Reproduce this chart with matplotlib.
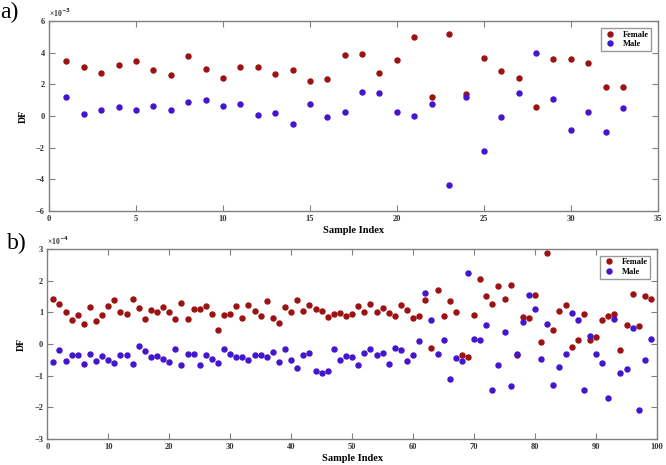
import numpy as np
import matplotlib.pyplot as plt

# Panel a) values in units of 1e-3
idx_a = np.arange(1, 34)
female_a = [3.51, 3.09, 2.75, 3.26, 3.47, 2.94, 2.58, 3.83, 2.96, 2.43, 3.11, 3.13, 2.64, 2.90, 2.20, 2.33,
            3.85, 3.94, 2.72, 3.54, 5.01, 1.22, 5.22, 1.37, 3.68, 2.84, 2.40, 0.59, 3.62, 3.62, 3.33, 1.85, 1.81]
male_a = [1.23, 0.11, 0.36, 0.55, 0.36, 0.61, 0.40, 0.87, 1.01, 0.61, 0.78, 0.06, 0.21, -0.49, 0.74, -0.08,
          0.23, 1.52, 1.49, 0.23, 0.02, 0.74, -4.36, 1.18, -2.21, -0.06, 1.49, 4.00, 1.05, -0.86, 0.27, -0.99, 0.51]

# Panel b) values in units of 1e-4
idx_b = np.arange(1, 100)
female_b = [1.42, 1.28, 1.02, 0.75, 0.93, 0.63, 1.18, 0.73, 0.92, 1.19,
            1.38, 1.02, 0.96, 1.42, 1.14, 0.79, 1.07, 1.00, 1.17, 1.01,
            0.79, 1.29, 0.79, 1.12, 1.10, 1.21, 0.96, 0.45, 0.92, 0.94,
            1.20, 0.81, 1.23, 1.05, 0.88, 1.37, 0.84, 0.66, 1.16, 1.00,
            1.38, 1.04, 1.24, 1.11, 1.04, 0.85, 0.95, 0.99, 0.88, 0.96,
            1.20, 1.02, 1.27, 1.01, 1.14, 0.98, 0.88, 1.23, 1.07, 0.82,
            0.89, 1.39, -0.11, 1.70, 0.90, 1.36, 1.00, -0.34, -0.40, 0.92,
            2.05, 1.53, 1.28, 1.85, 1.42, 1.88, -0.35, 0.86, 0.81, 1.56,
            0.06, 2.88, 0.46, 1.05, 1.23, -0.09, 0.12, 0.94, 0.13, 0.23,
            0.76, 0.90, 0.94, -0.18, 0.61, 1.58, 0.56, 1.53, 1.42]
male_b = [-0.57, -0.18, -0.54, -0.33, -0.36, -0.64, -0.31, -0.54, -0.38, -0.50,
          -0.61, -0.35, -0.36, -0.64, -0.06, -0.21, -0.42, -0.38, -0.47, -0.57,
          -0.17, -0.66, -0.32, -0.30, -0.65, -0.36, -0.46, -0.60, -0.16, -0.30,
          -0.42, -0.41, -0.51, -0.35, -0.36, -0.40, -0.25, -0.57, -0.14, -0.49,
          -0.75, -0.35, -0.28, -0.86, -0.90, -0.86, -0.15, -0.51, -0.39, -0.41,
          -0.66, -0.28, -0.14, -0.36, -0.27, -0.63, -0.13, -0.19, -0.54, -0.36,
          0.11, 1.62, 0.77, -0.32, 0.14, -1.10, -0.44, -0.52, 2.26, 0.16,
          0.13, 0.59, -1.45, -0.65, 0.37, -1.32, -0.30, 0.70, 1.55, 1.10,
          -0.47, 0.62, -1.30, -0.74, -0.30, 0.97, 0.77, -1.46, 0.25, -0.30,
          -0.60, -1.70, 0.79, -0.90, -0.79, 0.51, -2.09, -0.50, 0.16]

red = '#9c1212'
blue = '#4315cf'
grey = '#808080'
serif = ['Liberation Serif', 'DejaVu Serif']

plt.rcParams['font.family'] = serif
plt.rcParams['font.weight'] = 'bold'

fig = plt.figure(figsize=(6.66, 4.65), dpi=100)
ax1 = fig.add_axes([0.0736, 0.547, 0.914, 0.407])
ax2 = fig.add_axes([0.071, 0.056, 0.9155, 0.408])


def style(ax, xmax, xstep, ymin, ymax, ystep, mult):
    ax.set_xlim(0, xmax)
    ax.set_ylim(ymin, ymax)
    ax.set_xticks(np.arange(0, xmax + 1, xstep))
    ax.set_yticks(np.arange(ymin, ymax + 1, ystep))
    ax.tick_params(direction='in', top=True, right=True, length=4, width=0.8,
                   color=grey, labelsize=6, pad=3, labelcolor='#333333')
    for s in ax.spines.values():
        s.set_color(grey)
        s.set_linewidth(1.0)
    ax.set_xlabel('Sample Index', fontsize=7.5, fontweight='bold', labelpad=2)
    ax.set_ylabel('DF', fontsize=7, fontweight='bold', labelpad=6)
    ax.text(0.0, 1.01, '×10$^{%d}$' % mult, transform=ax.transAxes, fontsize=5.5,
            ha='left', va='bottom', color='#333333')
    ax.legend(loc='upper right', fontsize=6, frameon=True, fancybox=False,
              edgecolor=grey, borderpad=0.3, handletextpad=0.8, labelspacing=0.2,
              borderaxespad=0.8, handlelength=1.5)


ax1.plot(idx_a, female_a, 'o', color=red, ms=3.6, label='Female')
ax1.plot(idx_a, male_a, 'o', color=blue, ms=3.6, label='Male')
style(ax1, 35, 5, -6, 6, 2, -3)

ax2.plot(idx_b, female_b, 'o', color=red, ms=3.6, label='Female')
ax2.plot(idx_b, male_b, 'o', color=blue, ms=3.6, label='Male')
style(ax2, 100, 10, -3, 3, 1, -4)

fig.text(0.0, 0.995, 'a)', fontsize=17, fontweight='normal', va='top', ha='left')
fig.text(0.01, 0.5, 'b)', fontsize=17, fontweight='normal', va='top', ha='left')

fig.savefig('out.png', dpi=100)
